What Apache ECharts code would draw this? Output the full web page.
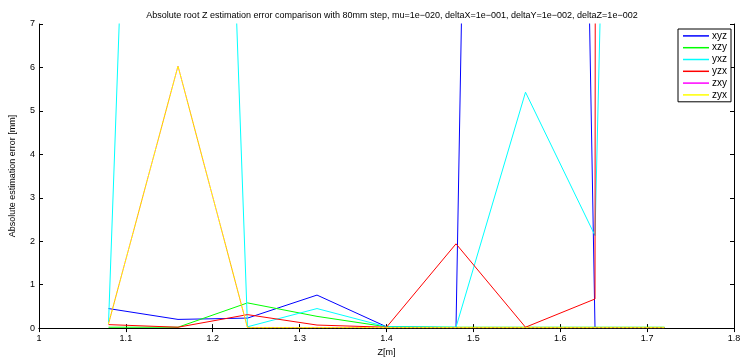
<!DOCTYPE html>
<html lang="en">
<head>
  <meta charset="UTF-8">
  <title>echarts</title>
  <style>
    body { margin: 0; background: #fff; }
    #main { width: 744px; height: 362px; }
  </style>
</head>
<body>
  <div id="main"></div>
  <script src="https://cdn.jsdelivr.net/npm/echarts@6/dist/echarts.min.js"></script>
  <script>
    // Z positions, 80mm step
    var zValues = [1.08, 1.16, 1.24, 1.32, 1.40, 1.48, 1.56, 1.64, 1.72];
    var xTicks = ['1', '1.1', '1.2', '1.3', '1.4', '1.5', '1.6', '1.7', '1.8'];
    var names = ['xyz', 'xzy', 'yxz', 'yzx', 'zxy', 'zyx'];
    var colors = ['#0000ff', '#00ff00', '#00ffff', '#ff0000', '#ff00ff', '#ffff00'];

    var xyz = [0.45, 0.20, 0.23, 0.76, 0.03, 0.01, 90, 0.01, 0.01];
    var xzy = [0.02, 0.02, 0.58, 0.27, 0.03, 0.02, 0.02, 0.02, 0.02];
    var yxz = [0.10, 45, 0.03, 0.45, 0.03, 0.02, 5.43, 2.13, 70];
    var yzx = [0.08, 0.02, 0.31, 0.07, 0.02, 1.94, 0.02, 0.67, 2000];
    var zxy = [0.10, 6.03, 0.01, 0.01, 0.01, 0.01, 0.01, 0.01, 0.01];
    var zyx = [0.10, 6.03, 0.01, 0.01, 0.01, 0.01, 0.01, 0.01, 0.01];
    var allSeries = [xyz, xzy, yxz, yzx, zxy, zyx];

    var font = 'Liberation Sans, Arial, sans-serif';

    var series = allSeries.map(function (vals, i) {
      var s = {
        name: names[i],
        type: 'line',
        showSymbol: false,
        symbol: 'none',
        clip: true,
        animation: false,
        itemStyle: { color: colors[i] },
        lineStyle: { color: colors[i], width: 1 },
        data: vals.map(function (v, j) { return [zValues[j], v]; })
      };
      if (names[i] === 'zyx') {
        // yellow over magenta looks orange in the original
        s.lineStyle = { color: colors[i], width: 1, type: [2, 2] };
      }
      if (names[i] === 'zxy') {
        s.lineStyle = { color: '#ffa030', width: 1 };
      }
      return s;
    });

    var chart = echarts.init(document.getElementById('main'));
    chart.setOption({
      animation: false,
      title: {
        text: 'Absolute root Z estimation error comparison with 80mm step, mu=1e\u2212020, deltaX=1e\u2212001, deltaY=1e\u2212002, deltaZ=1e\u2212002',
        left: 387,
        textAlign: 'center',
        top: 6,
        textStyle: { fontFamily: font, fontSize: 9, fontWeight: 'normal', color: '#000' }
      },
      legend: {
        orient: 'vertical',
        right: 13,
        top: 29,
        width: 54,
        padding: [1, 4, 1, 5],
        itemGap: 0,
        itemWidth: 26,
        itemHeight: 1.5,
        icon: 'rect',
        borderColor: '#000',
        borderWidth: 1,
        backgroundColor: '#fff',
        textStyle: { fontFamily: font, fontSize: 10, color: '#000', lineHeight: 11.8, padding: [0, 0, 0, -2] },
        data: names.map(function (n, i) {
          return { name: n, itemStyle: { color: colors[i] } };
        })
      },
      grid: { left: 39, right: 10, top: 24, bottom: 29 },
      xAxis: [{
        type: 'value',
        min: 1,
        max: 1.8,
        interval: 0.1,
        name: 'Z[m]',
        nameLocation: 'middle',
        nameGap: 15,
        nameTextStyle: { fontFamily: font, fontSize: 9, color: '#000' },
        axisLine: { onZero: false, lineStyle: { color: '#000' } },
        axisTick: { inside: true, length: 4, lineStyle: { color: '#000' } },
        axisLabel: {
          fontFamily: font, fontSize: 9, color: '#000', margin: 6,
          formatter: function (v) { return xTicks[Math.round((v - 1) * 10)]; }
        },
        splitLine: { show: false }
      }, {
        type: 'value',
        position: 'top',
        min: 1,
        max: 1.8,
        interval: 0.1,
        axisLine: { lineStyle: { color: '#000' } },
        axisTick: { inside: true, length: 4, lineStyle: { color: '#000' } },
        axisLabel: { show: false },
        splitLine: { show: false }
      }],
      yAxis: [{
        type: 'value',
        min: 0,
        max: 7,
        interval: 1,
        name: 'Absolute estimation error [mm]',
        nameLocation: 'middle',
        nameGap: 22,
        nameTextStyle: { fontFamily: font, fontSize: 9, color: '#000' },
        axisLine: { show: true, onZero: false, lineStyle: { color: '#000' } },
        axisTick: { show: true, inside: true, length: 4, lineStyle: { color: '#000' } },
        axisLabel: { fontFamily: font, fontSize: 9, color: '#000', margin: 4 },
        splitLine: { show: false }
      }, {
        type: 'value',
        position: 'right',
        min: 0,
        max: 7,
        interval: 1,
        axisLine: { show: true, lineStyle: { color: '#000' } },
        axisTick: { show: true, inside: true, length: 4, lineStyle: { color: '#000' } },
        axisLabel: { show: false },
        splitLine: { show: false }
      }],
      series: series
    });
  </script>
</body>
</html>
